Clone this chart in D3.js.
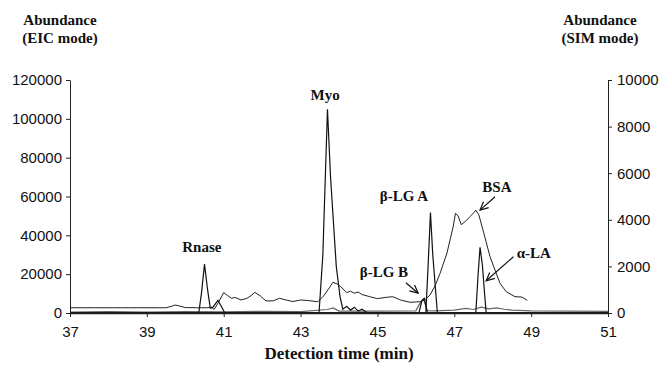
<!DOCTYPE html>
<html><head><meta charset="utf-8">
<script src="https://cdn.jsdelivr.net/npm/d3@7"></script>
<style>
body{margin:0;background:#fff;}
svg{display:block;}
</style></head>
<body>
<svg id="chart" width="662" height="369"></svg>
<script>
// ---- data ----
const xTicks = [37, 39, 41, 43, 45, 47, 49, 51];
const leftTicks = [0, 20000, 40000, 60000, 80000, 100000, 120000];
const rightTicks = [0, 2000, 4000, 6000, 8000, 10000];

// broad trace (left axis units)
const broadT = [37, 39.5, 39.65, 39.73, 39.85, 40.0, 40.3, 40.55, 40.68, 40.75, 40.85, 41.0, 41.1, 41.2, 41.3, 41.45, 41.6, 41.7, 41.81, 41.95, 42.1, 42.3, 42.45, 42.6, 42.8, 43.0, 43.2, 43.45, 43.6, 43.75, 43.84, 43.95, 44.05, 44.2, 44.3, 44.4, 44.5, 44.6, 44.8, 45.0, 45.2, 45.4, 45.6, 45.85, 46.1, 46.25, 46.37, 46.5, 46.63, 46.81, 46.97, 47.03, 47.1, 47.18, 47.28, 47.41, 47.51, 47.56, 47.64, 47.77, 47.93, 48.06, 48.19, 48.35, 48.58, 48.76, 48.9];
const broadV = [2700, 2700, 3500, 4100, 3600, 2800, 2700, 2700, 3000, 1800, 5000, 10500, 9000, 7600, 8000, 6700, 7500, 8800, 10600, 8800, 6200, 6300, 7600, 6800, 5900, 6700, 6400, 5800, 8800, 13000, 15800, 15000, 13500, 10500, 11200, 10200, 10800, 9500, 8400, 7400, 8000, 8400, 6700, 5500, 5800, 7000, 9300, 14000, 20400, 30900, 44400, 51300, 50000, 45500, 47000, 49600, 51700, 53000, 50500, 41000, 29000, 22100, 15300, 11000, 8400, 8200, 6500];

// Rnase EIC trace
const rnaseT = [37, 40.35, 40.42, 40.5, 40.58, 40.65, 40.72, 40.85, 40.95, 41.03, 51];
const rnaseV = [0, 0, 10000, 25200, 12000, 2500, 3000, 6500, 3000, 0, 0];

// Myo EIC trace
const myoT = [37, 43.48, 43.58, 43.7, 43.78, 43.84, 43.93, 44.03, 44.1, 44.2, 44.3, 44.4, 44.5, 44.6, 44.7, 44.8, 51];
const myoV = [0, 0, 30000, 104900, 70000, 51500, 23800, 8000, 2000, 3500, 1500, 3000, 1000, 2000, 500, 0, 0];

// beta-LG A
const lgaT = [37, 46.26, 46.32, 46.38, 46.44, 46.56, 51];
const lgaV = [0, 0, 25000, 51700, 30000, 0, 0];

// beta-LG B
const lgbT = [37, 46.08, 46.16, 46.22, 46.3, 51];
const lgbV = [0, 0, 6500, 7500, 0, 0];

// alpha-LA
const laT = [37, 47.56, 47.62, 47.67, 47.73, 47.78, 47.83, 51];
const laV = [0, 0, 20000, 33800, 25000, 12000, 0, 0];

// SIM trace (right axis units)
const simT = [37, 38, 39, 40, 41, 42, 43, 43.7, 43.85, 44.0, 45, 46, 46.1, 46.2, 46.3, 46.5, 47, 47.3, 47.5, 47.7, 47.9, 48.1, 48.3, 48.5, 49, 50, 51];
const simV = [40, 60, 40, 60, 50, 70, 60, 150, 220, 80, 80, 90, 400, 600, 100, 90, 120, 200, 150, 250, 180, 220, 160, 120, 90, 80, 70];

const annLabels = [
  {text: "Rnase", t: 40.43, v: 31400},
  {text: "Myo", t: 43.64, v: 109700},
  {text: "\u03b2-LG A", t: 45.69, v: 57700},
  {text: "\u03b2-LG B", t: 45.17, v: 18500},
  {text: "BSA", t: 48.11, v: 62300},
  {text: "\u03b1-LA", t: 49.07, v: 28300}
];
const annArrows = [
  {t0: 45.74, v0: 15600, t1: 46.06, v1: 10200},
  {t0: 48.06, v0: 59900, t1: 47.67, v1: 53000},
  {t0: 48.54, v0: 29000, t1: 47.83, v1: 16600}
];

// ---- drawing ----
const svg = d3.select("#chart");
const L = 70, R = 608, T = 80, B = 313;
const x = d3.scaleLinear().domain([37, 51]).range([L, R]);
const yL = d3.scaleLinear().domain([0, 120000]).range([B, T]);
const yR = d3.scaleLinear().domain([0, 10000]).range([B, T]);

const sans = "'Liberation Sans', Arial, sans-serif";
const serif = "'Liberation Serif', 'Times New Roman', serif";

function pts(ts, vs){ return ts.map((t,i)=>[t, vs[i]]); }
const lineL = d3.line().x(d=>x(d[0])).y(d=>yL(d[1]));
const lineR = d3.line().x(d=>x(d[0])).y(d=>yR(d[1]));

svg.append("path").attr("d", lineR(pts(simT, simV))).attr("fill","none").attr("stroke","#666").attr("stroke-width",1.2);
[[rnaseT,rnaseV],[myoT,myoV],[lgaT,lgaV],[lgbT,lgbV],[laT,laV]].forEach(([t,v])=>{
  svg.append("path").attr("d", lineL(pts(t,v))).attr("fill","none").attr("stroke","#111").attr("stroke-width",1.2);
});
svg.append("path").attr("d", lineL(pts(broadT, broadV))).attr("fill","none").attr("stroke","#222").attr("stroke-width",1);

// axes
const ax = svg.append("g").attr("transform",`translate(0,${B})`)
  .call(d3.axisBottom(x).tickValues(xTicks).tickSize(4).tickSizeOuter(0).tickFormat(d3.format("d")));
const al = svg.append("g").attr("transform",`translate(${L},0)`)
  .call(d3.axisLeft(yL).tickValues(leftTicks).tickSize(4).tickSizeOuter(0).tickFormat(d3.format("d")));
const ar = svg.append("g").attr("transform",`translate(${R},0)`)
  .call(d3.axisRight(yR).tickValues(rightTicks).tickSize(4).tickSizeOuter(0).tickFormat(d3.format("d")));
[ax,al,ar].forEach(g=>{
  g.selectAll("path,line").attr("stroke","#222").attr("stroke-width",1);
  g.selectAll("text").attr("font-family",sans).attr("font-size",15).attr("fill","#111");
});
ax.select("path.domain").attr("stroke-width",1.6);
ax.selectAll("text").attr("dy","1.15em");
al.selectAll("text").attr("x",-8);
ar.selectAll("text").attr("x",9);

// axis titles
const tl = svg.append("text").attr("font-family",serif).attr("font-weight","bold").attr("font-size",15).attr("text-anchor","middle").attr("fill","#111");
tl.append("tspan").attr("x",60).attr("y",25).text("Abundance");
tl.append("tspan").attr("x",60).attr("y",43).text("(EIC mode)");
const tr = svg.append("text").attr("font-family",serif).attr("font-weight","bold").attr("font-size",15).attr("text-anchor","middle").attr("fill","#111");
tr.append("tspan").attr("x",600).attr("y",25).text("Abundance");
tr.append("tspan").attr("x",600).attr("y",43).text("(SIM mode)");
svg.append("text").attr("x",(L+R)/2).attr("y",359).attr("font-family",serif).attr("font-weight","bold").attr("font-size",17).attr("text-anchor","middle").attr("fill","#111").text("Detection time (min)");

// annotations
svg.selectAll("text.ann").data(annLabels).enter().append("text").attr("class","ann")
  .attr("x",d=>x(d.t)).attr("y",d=>yL(d.v)).attr("text-anchor","middle")
  .attr("font-family",serif).attr("font-weight","bold").attr("font-size",15).attr("fill","#111")
  .text(d=>d.text);

annArrows.forEach(a=>{
  const x0=x(a.t0), y0=yL(a.v0), x1=x(a.t1), y1=yL(a.v1);
  svg.append("line").attr("x1",x0).attr("y1",y0).attr("x2",x1).attr("y2",y1).attr("stroke","#111").attr("stroke-width",1.2);
  const ang = Math.atan2(y0-y1, x0-x1), h=9, s=0.45;
  const p1=[x1+h*Math.cos(ang+s), y1+h*Math.sin(ang+s)], p2=[x1+h*Math.cos(ang-s), y1+h*Math.sin(ang-s)];
  svg.append("path").attr("d",`M${p1[0]},${p1[1]}L${x1},${y1}L${p2[0]},${p2[1]}`).attr("fill","none").attr("stroke","#111").attr("stroke-width",1.2);
});
</script>
</body></html>
